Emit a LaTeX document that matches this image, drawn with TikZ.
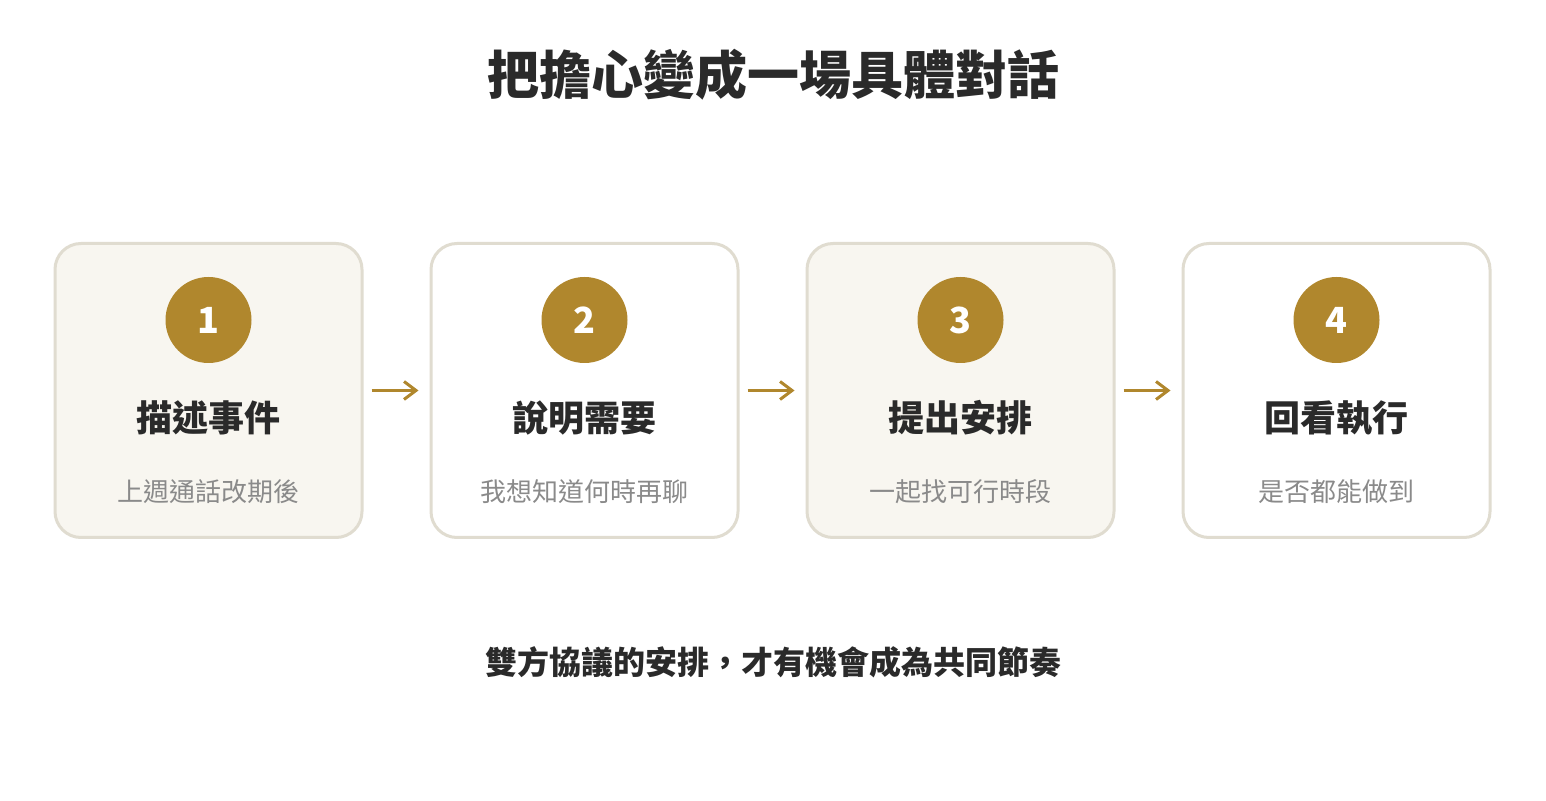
\documentclass[tikz,border=0pt]{standalone}
\usepackage{fontspec}
\setmainfont{Noto Sans CJK TC}
\usetikzlibrary{positioning}
\usetikzlibrary{arrows.meta}
\definecolor{gold}{HTML}{B0872D}
\definecolor{frame}{HTML}{E0DCD0}
\definecolor{cream}{HTML}{F8F6F0}
\definecolor{ink}{HTML}{2A2A2A}
\definecolor{muted}{HTML}{8A8A8A}
\tikzstyle{every picture}=[x=1pt, y=1pt, >={Straight Barb[length=12pt, width=18pt, line width=3pt]}]
\tikzstyle{stepbox}=[draw=frame, line width=3pt, rectangle, rounded corners=26pt,
  minimum width=307pt, minimum height=294pt, inner sep=0pt, fill=white]
\tikzstyle{badge}=[circle, fill=gold, minimum size=86pt, inner sep=0pt, text=white,
  font=\fontsize{36}{42}\selectfont\bfseries]
\tikzstyle{heading}=[text=ink, font=\fontsize{36}{42}\selectfont\bfseries]
\tikzstyle{detail}=[text=muted, font=\fontsize{26}{32}\selectfont]
\tikzstyle{flow}=[->, draw=gold, line width=3.5pt]

\begin{document}
\begin{tikzpicture}
\useasboundingbox[fill=white] (0,0) rectangle (1546,800);

\node[text=ink, font=\fontsize{52}{60}\selectfont\bfseries] (Title) at (773,725) {把擔心變成一場具體對話};

\node[stepbox, fill=cream] (Describe) at (208.5,409.5) {};
\node[stepbox, right=66pt of Describe] (Explain) {};
\node[stepbox, fill=cream, right=66pt of Explain] (Propose) {};
\node[stepbox, right=66pt of Propose] (Review) {};

% badges
\node[badge] (DescribeNo) at ([yshift=-78pt] Describe.north) {1};
\node[badge] (ExplainNo) at ([yshift=-78pt] Explain.north) {2};
\node[badge] (ProposeNo) at ([yshift=-78pt] Propose.north) {3};
\node[badge] (ReviewNo) at ([yshift=-78pt] Review.north) {4};

% headings and details
\node[heading] (DescribeHead) at ([yshift=-176pt] Describe.north) {描述事件};
\node[detail] (DescribeText) at ([yshift=-250pt] Describe.north) {上週通話改期後};
\node[heading] (ExplainHead) at ([yshift=-176pt] Explain.north) {說明需要};
\node[detail] (ExplainText) at ([yshift=-250pt] Explain.north) {我想知道何時再聊};
\node[heading] (ProposeHead) at ([yshift=-176pt] Propose.north) {提出安排};
\node[detail] (ProposeText) at ([yshift=-250pt] Propose.north) {一起找可行時段};
\node[heading] (ReviewHead) at ([yshift=-176pt] Review.north) {回看執行};
\node[detail] (ReviewText) at ([yshift=-250pt] Review.north) {是否都能做到};

\draw[flow] ([xshift=8pt] Describe.east) -- ([xshift=-11pt] Explain.west);
\draw[flow] ([xshift=8pt] Explain.east) -- ([xshift=-11pt] Propose.west);
\draw[flow] ([xshift=8pt] Propose.east) -- ([xshift=-11pt] Review.west);

\node[text=ink, font=\fontsize{32}{38}\selectfont\bfseries] (Closing) at (773,138) {雙方協議的安排，才有機會成為共同節奏};
\end{tikzpicture}
\end{document}
